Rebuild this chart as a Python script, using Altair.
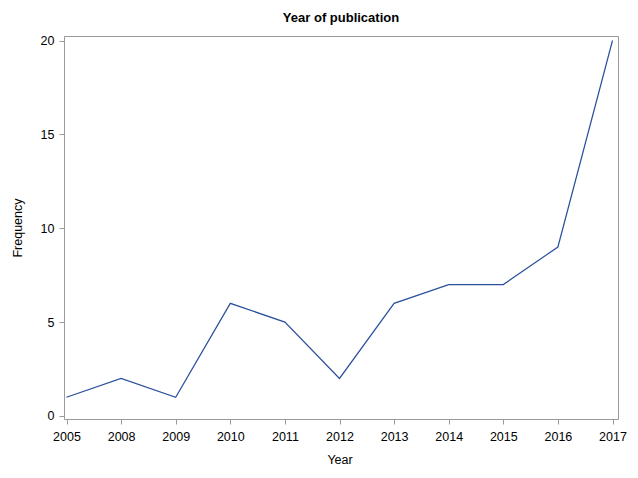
import altair as alt
import pandas as pd

years = ["2005", "2008", "2009", "2010", "2011", "2012", "2013", "2014", "2015", "2016", "2017"]
freq = [1, 2, 1, 6, 5, 2, 6, 7, 7, 9, 20]

df = pd.DataFrame({"Year": years, "Frequency": freq})

W, H = 554, 383
FONT = "Liberation Sans"

chart = alt.Chart(df).mark_line(color="#2A4F9C", strokeWidth=1.2).encode(
    x=alt.X("Year:O", sort=years,
            scale=alt.Scale(type="point", padding=0, range=[2.5, W - 5.5]),
            axis=alt.Axis(title="Year", labelAngle=0, tickSize=5, labelPadding=6,
                          titlePadding=11, domain=False)),
    y=alt.Y("Frequency:Q",
            scale=alt.Scale(domain=[-0.16, 20.24], nice=False, zero=False),
            axis=alt.Axis(title="Frequency", values=[0, 5, 10, 15, 20], tickSize=5,
                          labelPadding=5, titlePadding=16, domain=False, grid=False)),
).properties(
    width=W, height=H,
    title=alt.TitleParams("Year of publication", fontSize=13, fontWeight="bold",
                          font=FONT, color="black", offset=10, anchor="middle"),
    autosize=alt.AutoSizeParams(type="none"),
    padding={"left": 56, "top": 28, "right": 12, "bottom": 50},
).configure_view(
    stroke="#9a9a9a", strokeWidth=1
).configure_axis(
    labelFont=FONT, titleFont=FONT, labelFontSize=12.5, titleFontSize=12.5,
    titleFontWeight="normal", labelColor="black", titleColor="black",
    tickColor="#9a9a9a", grid=False
)

chart.save("out.html", embed_options={"renderer": "svg", "actions": False})
